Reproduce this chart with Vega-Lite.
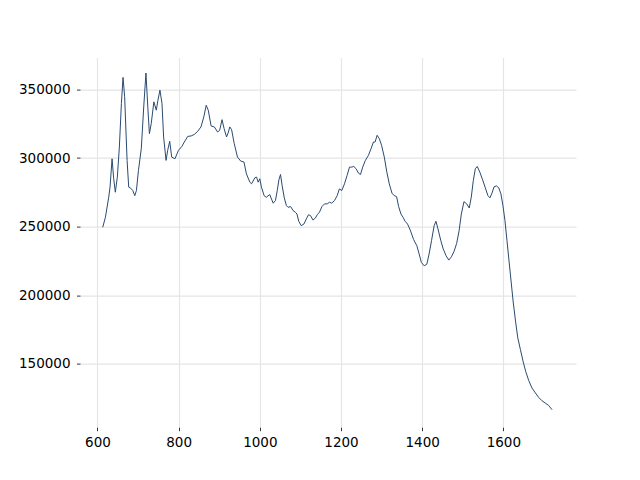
{
  "$schema": "https://vega.github.io/schema/vega-lite/v6.json",
  "autosize": {"type": "none"},
  "width": 496,
  "height": 369.6,
  "padding": {"left": 80, "top": 57.6, "right": 64, "bottom": 52.8},
  "background": "white",
  "config": {
    "view": {"stroke": null},
    "axis": {
      "domain": false,
      "grid": true,
      "gridColor": "#e5e5e5",
      "gridWidth": 1.2,
      "ticks": true,
      "tickColor": "#000000",
      "tickSize": 3.5,
      "tickWidth": 0.8,
      "labelFont": "DejaVu Sans",
      "labelFontSize": 13.5,
      "labelColor": "#000000",
      "labelPadding": 4.5,
      "title": null
    }
  },
  "data": {
    "values": [
      {"x": 613, "y": 249500}, {"x": 619.6, "y": 256800}, {"x": 627.7, "y": 271400}, {"x": 631, "y": 278800},
      {"x": 636, "y": 299500}, {"x": 640, "y": 284900}, {"x": 644, "y": 275100}, {"x": 649, "y": 286100},
      {"x": 654, "y": 308000}, {"x": 659, "y": 339800}, {"x": 663, "y": 358800}, {"x": 667, "y": 344700},
      {"x": 673, "y": 298300}, {"x": 677, "y": 278800}, {"x": 682, "y": 278000}, {"x": 687, "y": 276300},
      {"x": 692, "y": 272600}, {"x": 696, "y": 276300}, {"x": 701, "y": 291000}, {"x": 708, "y": 306800},
      {"x": 714, "y": 337300}, {"x": 719.5, "y": 362000}, {"x": 724, "y": 337300}, {"x": 728, "y": 317800},
      {"x": 732.5, "y": 325100}, {"x": 739, "y": 341000}, {"x": 745, "y": 334900}, {"x": 749, "y": 342200},
      {"x": 754, "y": 349500}, {"x": 759, "y": 339800}, {"x": 763, "y": 315400}, {"x": 769, "y": 298300},
      {"x": 773, "y": 305600}, {"x": 778, "y": 312200}, {"x": 783, "y": 300700}, {"x": 791, "y": 299500},
      {"x": 799.5, "y": 305600}, {"x": 808, "y": 308500}, {"x": 814, "y": 311700}, {"x": 822.5, "y": 315800},
      {"x": 830.7, "y": 316100}, {"x": 839, "y": 317300}, {"x": 847, "y": 319500}, {"x": 855, "y": 322700},
      {"x": 862, "y": 330000}, {"x": 868, "y": 338500}, {"x": 873, "y": 334900}, {"x": 880, "y": 323400},
      {"x": 888, "y": 322700}, {"x": 896, "y": 319000}, {"x": 901, "y": 320200}, {"x": 907, "y": 328000},
      {"x": 912, "y": 321500}, {"x": 918, "y": 315400}, {"x": 922, "y": 318300}, {"x": 926, "y": 322700},
      {"x": 930.5, "y": 320700}, {"x": 937, "y": 310500}, {"x": 945, "y": 300700}, {"x": 953, "y": 297800},
      {"x": 961, "y": 297100}, {"x": 967, "y": 288500}, {"x": 975.5, "y": 282400}, {"x": 979.6, "y": 281200},
      {"x": 988, "y": 285700}, {"x": 992, "y": 286100}, {"x": 996, "y": 282400}, {"x": 1000, "y": 284900},
      {"x": 1004, "y": 278800}, {"x": 1010.6, "y": 272600}, {"x": 1016, "y": 271400}, {"x": 1024.5, "y": 273400},
      {"x": 1028.7, "y": 270200}, {"x": 1033, "y": 267100}, {"x": 1038.5, "y": 269000}, {"x": 1043, "y": 276300},
      {"x": 1047, "y": 284100}, {"x": 1051, "y": 288000}, {"x": 1055, "y": 280000}, {"x": 1060, "y": 271400},
      {"x": 1065.5, "y": 265300}, {"x": 1069.5, "y": 264100}, {"x": 1076, "y": 264600}, {"x": 1082, "y": 261700},
      {"x": 1087.6, "y": 260500}, {"x": 1091.5, "y": 259200}, {"x": 1096, "y": 253900}, {"x": 1102, "y": 250700},
      {"x": 1108.7, "y": 251900}, {"x": 1114.6, "y": 255600}, {"x": 1120, "y": 258700}, {"x": 1125, "y": 258000},
      {"x": 1131, "y": 254800}, {"x": 1137, "y": 256300}, {"x": 1141.6, "y": 258700}, {"x": 1147, "y": 260500},
      {"x": 1153, "y": 264600}, {"x": 1159.5, "y": 266600}, {"x": 1166, "y": 266600}, {"x": 1172, "y": 267800},
      {"x": 1177, "y": 267100}, {"x": 1184, "y": 269000}, {"x": 1190.7, "y": 272600}, {"x": 1196, "y": 277500},
      {"x": 1202, "y": 276300}, {"x": 1208.6, "y": 281200}, {"x": 1215, "y": 287300}, {"x": 1221, "y": 293400},
      {"x": 1226.6, "y": 293400}, {"x": 1231.5, "y": 293900}, {"x": 1237.3, "y": 292200}, {"x": 1243, "y": 289000},
      {"x": 1248, "y": 288000}, {"x": 1253.5, "y": 293400}, {"x": 1260, "y": 298200}, {"x": 1267.5, "y": 301900},
      {"x": 1274, "y": 306800}, {"x": 1280, "y": 311700}, {"x": 1284, "y": 311700}, {"x": 1289, "y": 316600},
      {"x": 1294.5, "y": 314100}, {"x": 1300, "y": 309300}, {"x": 1306.7, "y": 300700}, {"x": 1313, "y": 289700},
      {"x": 1319, "y": 281200}, {"x": 1325.6, "y": 274400}, {"x": 1331, "y": 272600}, {"x": 1337, "y": 271900},
      {"x": 1342, "y": 264600}, {"x": 1347.7, "y": 259200}, {"x": 1353, "y": 256800}, {"x": 1358, "y": 253900},
      {"x": 1364, "y": 251900}, {"x": 1370.6, "y": 247500}, {"x": 1379, "y": 240500}, {"x": 1387, "y": 236000},
      {"x": 1392.6, "y": 230000}, {"x": 1398, "y": 223900}, {"x": 1405, "y": 221400}, {"x": 1411.5, "y": 222600},
      {"x": 1417, "y": 230000}, {"x": 1423, "y": 239700}, {"x": 1429.5, "y": 250700}, {"x": 1434, "y": 253900},
      {"x": 1439, "y": 248300}, {"x": 1446, "y": 239700}, {"x": 1452, "y": 233600}, {"x": 1459, "y": 228700},
      {"x": 1465.6, "y": 225600}, {"x": 1472, "y": 228000}, {"x": 1478.5, "y": 231900}, {"x": 1485, "y": 237800},
      {"x": 1491, "y": 247000}, {"x": 1496.5, "y": 259200}, {"x": 1503, "y": 268200}, {"x": 1509.7, "y": 266600},
      {"x": 1516, "y": 263600}, {"x": 1521, "y": 271500}, {"x": 1526, "y": 283600}, {"x": 1531, "y": 292200},
      {"x": 1535.7, "y": 293900}, {"x": 1542, "y": 289800}, {"x": 1549, "y": 284100}, {"x": 1555, "y": 278800},
      {"x": 1562, "y": 272600}, {"x": 1567, "y": 271000}, {"x": 1572, "y": 274400}, {"x": 1577, "y": 279000},
      {"x": 1583, "y": 279700}, {"x": 1588.7, "y": 278300}, {"x": 1594, "y": 273900}, {"x": 1599, "y": 265300},
      {"x": 1604, "y": 254300}, {"x": 1609, "y": 239700}, {"x": 1614, "y": 225000}, {"x": 1619, "y": 210400},
      {"x": 1624, "y": 195800}, {"x": 1630, "y": 181100}, {"x": 1635.6, "y": 168900}, {"x": 1642, "y": 160400},
      {"x": 1648.6, "y": 151800}, {"x": 1655, "y": 144500}, {"x": 1662.6, "y": 137700}, {"x": 1670.6, "y": 132300},
      {"x": 1679, "y": 128700}, {"x": 1687, "y": 125500}, {"x": 1695, "y": 123100}, {"x": 1703, "y": 121400},
      {"x": 1711.7, "y": 119600}, {"x": 1720, "y": 116500}
    ]
  },
  "mark": {"type": "line", "color": "#2a4a70", "strokeWidth": 1, "clip": true},
  "encoding": {
    "x": {
      "field": "x",
      "type": "quantitative",
      "scale": {"domain": [557, 1779], "nice": false, "zero": false},
      "axis": {"values": [600, 800, 1000, 1200, 1400, 1600], "format": "d"}
    },
    "y": {
      "field": "y",
      "type": "quantitative",
      "scale": {"domain": [103750, 373250], "nice": false, "zero": false},
      "axis": {"values": [150000, 200000, 250000, 300000, 350000], "format": "d", "labelPadding": 6.5}
    }
  }
}
